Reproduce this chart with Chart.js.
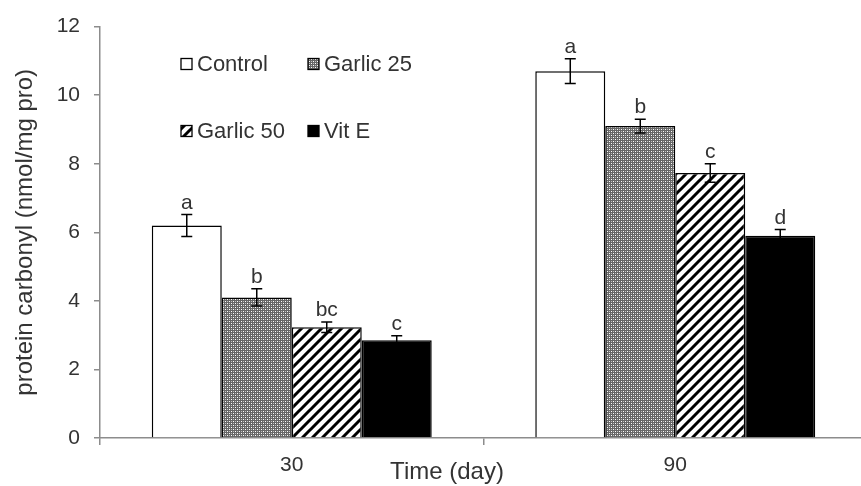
<!DOCTYPE html>
<html>
<head>
<meta charset="utf-8">
<script src="https://cdn.jsdelivr.net/npm/chart.js@4/dist/chart.umd.min.js"></script>
<style>
  html, body { margin: 0; padding: 0; background: #fff; overflow: hidden; }
  #wrap { width: 867px; height: 486px; }
</style>
</head>
<body>
<div id="wrap"><canvas id="chart"></canvas></div>
<script>
const categories = ['30', '90'];
const seriesNames = ['Control', 'Garlic 25', 'Garlic 50', 'Vit E'];
const control = [6.2, 10.7];
const garlic25 = [4.1, 9.1];
const garlic50 = [3.23, 7.73];
const vitE = [2.85, 5.9];
const controlErr = [0.32, 0.36];
const garlic25Err = [0.25, 0.2];
const garlic50Err = [0.15, 0.27];
const vitEErr = [0.13, 0.18];
const controlLetters = ['a', 'a'];
const garlic25Letters = ['b', 'b'];
const garlic50Letters = ['bc', 'c'];
const vitELetters = ['c', 'd'];
const yTicks = [0, 2, 4, 6, 8, 10, 12];
const yTitle = 'protein carbonyl (nmol/mg pro)';
const xTitle = 'Time (day)';

const FONT = "'Liberation Sans', Arial, sans-serif";
const TEXT = '#333';
const AXIS = '#8c8c8c';

function dotPattern() {
  const c = document.createElement('canvas');
  c.width = 4; c.height = 4;
  const g = c.getContext('2d');
  g.fillStyle = '#666';
  g.fillRect(0, 0, 4, 4);
  g.fillStyle = '#ffffff';
  g.fillRect(1, 1, 1, 1);
  g.fillRect(3, 3, 1, 1);
  g.fillStyle = '#c0c0c0';
  g.fillRect(1, 3, 1, 1);
  g.fillRect(3, 1, 1, 1);
  return g.createPattern(c, 'repeat');
}

function stripePattern() {
  const c = document.createElement('canvas');
  c.width = 10; c.height = 10;
  const g = c.getContext('2d');
  g.fillStyle = '#fff';
  g.fillRect(0, 0, 10, 10);
  g.strokeStyle = '#000';
  g.lineWidth = 3;
  g.beginPath();
  g.moveTo(-5, 5); g.lineTo(5, -5);
  g.moveTo(0, 10); g.lineTo(10, 0);
  g.moveTo(5, 15); g.lineTo(15, 5);
  g.stroke();
  return g.createPattern(c, 'repeat');
}

const fills = ['#ffffff', dotPattern(), stripePattern(), '#000000'];
const values = [control, garlic25, garlic50, vitE];
const errors = [controlErr, garlic25Err, garlic50Err, vitEErr];
const letters = [controlLetters, garlic25Letters, garlic50Letters, vitELetters];

const errorBars = {
  id: 'errorBars',
  afterDatasetsDraw(chart) {
    const ctx = chart.ctx;
    const y = chart.scales.y;
    ctx.save();
    chart.data.datasets.forEach((ds, i) => {
      const meta = chart.getDatasetMeta(i);
      meta.data.forEach((bar, j) => {
        const v = ds.data[j], e = errors[i][j];
        const top = y.getPixelForValue(v + e);
        const bot = y.getPixelForValue(v - e);
        ctx.strokeStyle = '#000';
        ctx.lineWidth = 1.5;
        ctx.beginPath();
        ctx.moveTo(bar.x, top); ctx.lineTo(bar.x, bot);
        ctx.moveTo(bar.x - 5.5, top); ctx.lineTo(bar.x + 5.5, top);
        ctx.moveTo(bar.x - 5.5, bot); ctx.lineTo(bar.x + 5.5, bot);
        ctx.stroke();
        ctx.fillStyle = TEXT;
        ctx.font = '21px ' + FONT;
        ctx.textAlign = 'center';
        ctx.textBaseline = 'bottom';
        ctx.fillText(letters[i][j], bar.x, top - 1);
      });
    });
    ctx.restore();
  }
};

const extras = {
  id: 'extras',
  afterDraw(chart) {
    const ctx = chart.ctx;
    const area = chart.chartArea;
    ctx.save();
    // legend, 2 x 2 inside the plot
    const cols = [area.left + 81, area.left + 208];
    const rows = [64, 131];
    chart.data.datasets.forEach((ds, i) => {
      const bx = cols[i % 2], by = rows[Math.floor(i / 2)];
      ctx.fillStyle = ds.backgroundColor;
      ctx.fillRect(bx, by - 5.5, 11, 11);
      ctx.strokeStyle = '#000';
      ctx.lineWidth = 1.3;
      ctx.strokeRect(bx, by - 5.5, 11, 11);
      ctx.fillStyle = TEXT;
      ctx.font = '22px ' + FONT;
      ctx.textAlign = 'left';
      ctx.textBaseline = 'middle';
      ctx.fillText(ds.label, bx + 16, by + 1);
    });
    // x axis title
    ctx.font = '24px ' + FONT;
    ctx.textAlign = 'center';
    ctx.textBaseline = 'middle';
    ctx.fillText(xTitle, 447, 472);
    ctx.restore();
  }
};

new Chart(document.getElementById('chart').getContext('2d'), {
  type: 'bar',
  data: {
    labels: categories,
    datasets: seriesNames.map((name, i) => ({
      label: name,
      data: values[i],
      backgroundColor: fills[i],
      borderColor: '#000',
      borderWidth: 1.5,
      categoryPercentage: 0.73,
      barPercentage: 1.0,
    })),
  },
  options: {
    responsive: true,
    maintainAspectRatio: false,
    animation: false,
    events: [],
    layout: { padding: { top: 25, right: 0, bottom: 0, left: 0 } },
    plugins: {
      legend: { display: false },
      tooltip: { enabled: false },
    },
    scales: {
      x: {
        offset: true,
        grid: { display: true, drawOnChartArea: false, offset: true, tickLength: 7, color: AXIS, lineWidth: 1.5 },
        border: { color: AXIS, width: 1.5 },
        ticks: { color: TEXT, font: { family: FONT, size: 21 }, padding: 8, maxRotation: 0 },
        afterFit(scale) { scale.height = 48; },
      },
      y: {
        min: 0,
        max: 12,
        afterBuildTicks(scale) { scale.ticks = yTicks.map(v => ({ value: v })); },
        grid: { display: true, drawOnChartArea: false, tickLength: 6, color: AXIS, lineWidth: 1.5 },
        border: { color: AXIS, width: 1.5 },
        ticks: { color: TEXT, font: { family: FONT, size: 21 }, padding: 14 },
        title: { display: true, text: yTitle, color: TEXT, font: { family: FONT, size: 24 }, padding: { top: 11, bottom: 0 } },
        afterFit(scale) { scale.width = 100; },
      },
    },
  },
  plugins: [errorBars, extras],
});
</script>
</body>
</html>
